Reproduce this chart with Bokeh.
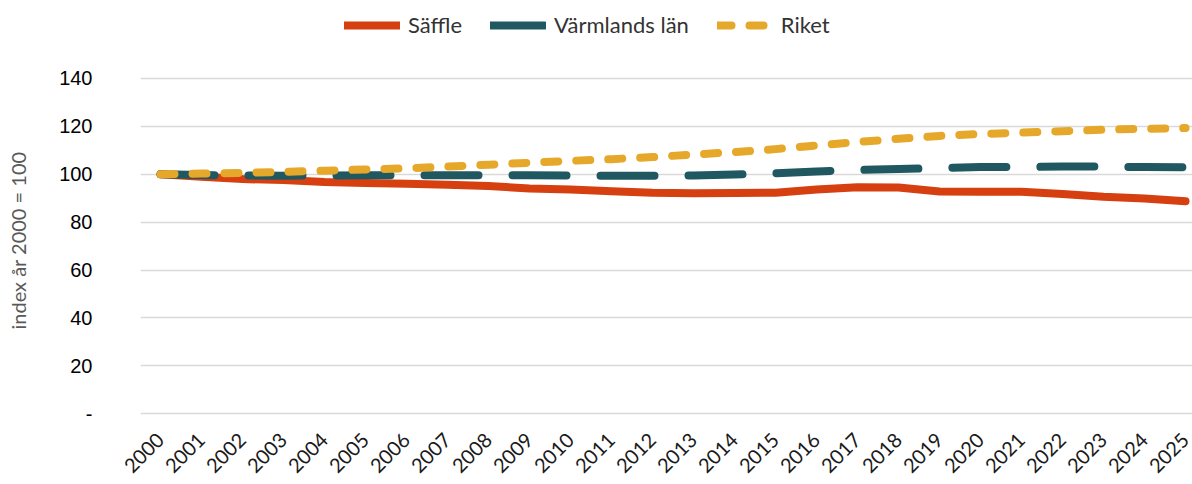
import math
from bokeh.plotting import figure
from bokeh.layouts import column
from bokeh.models import Range1d, FixedTicker, Legend, LegendItem
from bokeh.embed import file_html
from bokeh.resources import INLINE

years = list(range(2000, 2026))
saffle = [100.0, 99.0, 98.0, 97.6, 96.8, 96.4, 96.0, 95.6, 95.1, 94.1, 93.6, 92.9, 92.3, 92.1,
          92.2, 92.3, 93.6, 94.6, 94.5, 92.8, 92.7, 92.7, 91.8, 90.6, 89.9, 88.7]
varmland = [100.0, 99.7, 99.5, 99.4, 99.5, 99.6, 99.6, 99.6, 99.6, 99.6, 99.5, 99.4, 99.4, 99.5,
            99.9, 100.4, 101.2, 101.8, 102.2, 102.6, 103.0, 103.0, 103.2, 103.2, 103.0, 102.9]
riket = [100.0, 100.3, 100.6, 101.0, 101.5, 102.0, 102.5, 103.2, 104.0, 104.8, 105.6, 106.3,
         107.2, 108.2, 109.3, 110.5, 112.0, 113.5, 114.8, 116.0, 116.8, 117.4, 118.0, 118.6,
         119.0, 119.3]
y_ticks = [0, 20, 40, 60, 80, 100, 120, 140]
series_names = ["Säffle", "Värmlands län", "Riket"]
colors = ["#D63F10", "#1F5860", "#E6A82A"]
dashes = ["solid", "54 34", "14 18"]
series = [saffle, varmland, riket]

# main chart
p = figure(width=1192, height=424, output_backend="svg", toolbar_location=None,
           x_range=Range1d(1999.512, 2025.17), y_range=Range1d(-2.8, 147.5),
           min_border_left=140, min_border_right=0, min_border_top=0, min_border_bottom=64)
p.outline_line_color = None

for vals, c, d in zip(series, colors, dashes):
    p.line(years, vals, line_color=c, line_width=8, line_cap="round", line_join="round",
           line_dash=d)

p.xgrid.grid_line_color = None
p.ygrid.grid_line_color = "#D9D9D9"
p.ygrid.grid_line_width = 1.5

p.xaxis.ticker = FixedTicker(ticks=years)
p.xaxis.major_label_orientation = math.pi / 4
p.xaxis.major_label_text_font = "Lato"
p.xaxis.major_label_text_font_size = "20px"
p.xaxis.major_label_text_color = "#1a1a1a"
p.xaxis.axis_line_color = None
p.xaxis.major_tick_line_color = None
p.xaxis.minor_tick_line_color = None
p.xaxis.major_tick_out = 0
p.xaxis.major_label_standoff = 16

p.yaxis.ticker = FixedTicker(ticks=y_ticks)
p.yaxis.major_label_overrides = {0: "-"}
p.yaxis.major_label_text_font = "Liberation Sans"
p.yaxis.major_label_text_font_size = "20px"
p.yaxis.major_label_text_color = "#000000"
p.yaxis.axis_line_color = None
p.yaxis.major_tick_line_color = None
p.yaxis.minor_tick_line_color = None
p.yaxis.major_tick_out = 0
p.yaxis.major_label_standoff = 48
p.yaxis.axis_label = "index år 2000 = 100"
p.yaxis.axis_label_text_font = "Lato"
p.yaxis.axis_label_text_font_style = "normal"
p.yaxis.axis_label_text_font_size = "20px"
p.yaxis.axis_label_text_color = "#595959"
p.yaxis.axis_label_standoff = 26

# legend strip on top (its series lie outside its visible range; only the legend shows)
lg = figure(width=1192, height=60, output_backend="svg", toolbar_location=None,
            x_range=Range1d(0, 1), y_range=Range1d(0, 1),
            min_border_left=0, min_border_right=0, min_border_top=0, min_border_bottom=0)
lg.axis.visible = False
lg.grid.grid_line_color = None
lg.outline_line_color = None
items = []
for name, vals, c, d in zip(series_names, series, colors, dashes):
    r = lg.line(years, vals, line_color=c, line_width=8, line_cap="round", line_dash=d)
    items.append(LegendItem(label=name, renderers=[r]))
legend = Legend(items=items, orientation="horizontal", location=(204, 22),
                glyph_width=56, glyph_height=20, label_standoff=8, spacing=28,
                padding=0, margin=0, border_line_color=None, background_fill_alpha=0,
                label_text_font="Lato", label_text_font_size="22px",
                label_text_color="#333333")
lg.add_layout(legend, "center")

layout = column(lg, p, spacing=0)
open("out.html", "w").write(file_html(layout, INLINE))
